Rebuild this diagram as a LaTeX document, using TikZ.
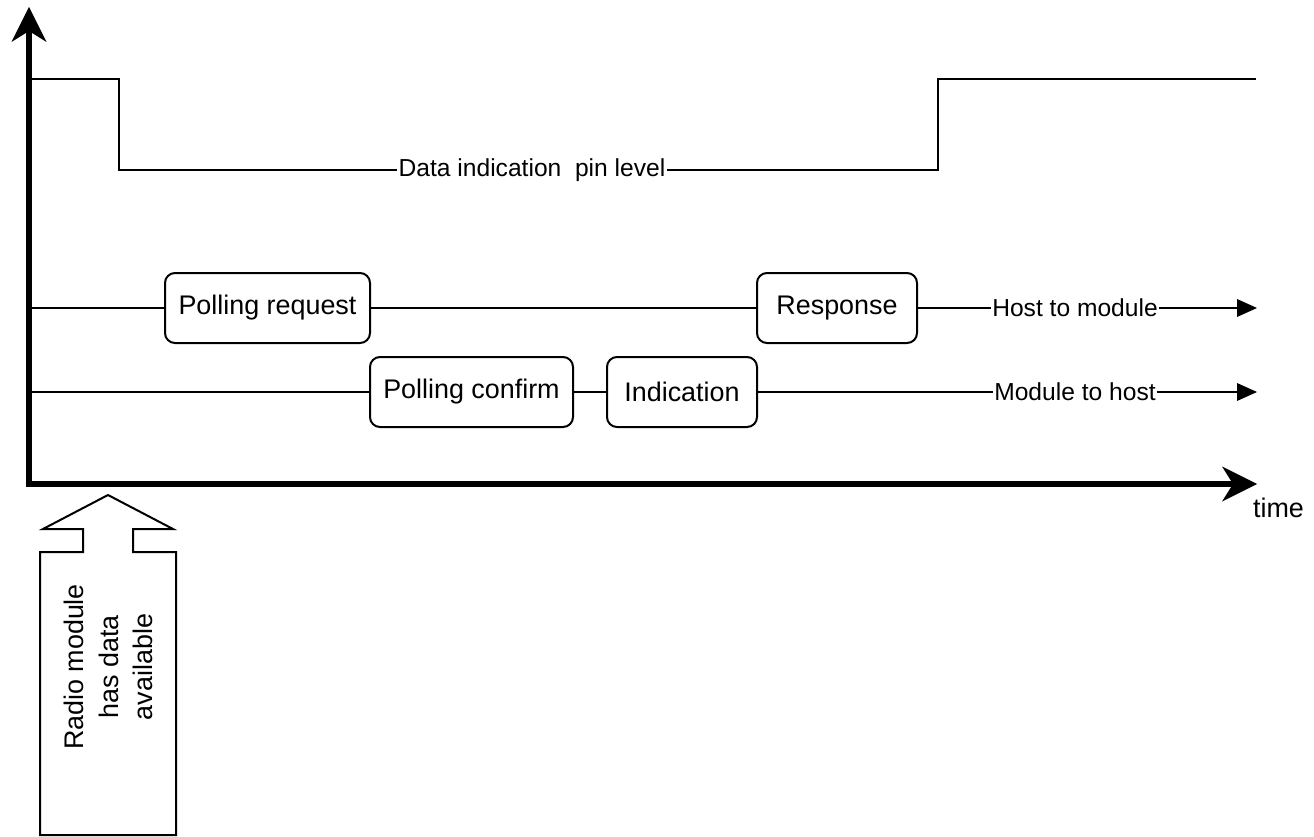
\documentclass[tikz,border=0pt]{standalone}
\usepackage{fontspec}
\setmainfont{Liberation Sans}
\usetikzlibrary{arrows.meta}
\begin{document}
\begin{tikzpicture}[x=1pt,y=-1pt,
  thinline/.style={line width=2pt},
  box/.style={draw, line width=2pt, rounded corners=10pt, inner sep=0pt, minimum height=70pt, font=\fontsize{26.9}{32}\selectfont},
  lbl/.style={inner sep=1.5pt, font=\fontsize{24.6}{29}\selectfont},
  bigtext/.style={inner sep=0pt, font=\fontsize{26.9}{34.5}\selectfont},
  axisarrows/.style={{Stealth[length=35pt,width=35pt,inset=11pt,line width=0pt]}-{Stealth[length=35pt,width=35pt,inset=11pt,line width=0pt]}},
  rowtip/.style={-{Triangle[length=20pt,width=18pt,line width=0pt]}}
]
\useasboundingbox (0,0) rectangle (1314,837);

% axes
\coordinate (O) at (29,484);
\coordinate (Ytip) at (29,7);
\coordinate (Xtip) at (1257,484);
\draw[line width=6.5pt, line join=miter, axisarrows] (Ytip) -- (O) -- (Xtip);
\node[bigtext] (time) at (1278.5,508) {time};

% data indication pin level
\coordinate (h0) at (29,79);
\coordinate (f1) at (119,79);
\coordinate (f2) at (938,79);
\coordinate (h1) at (1256,79);
\node[lbl] (dil) at (532,170) {Data indication\ \ pin level};
\draw[thinline] (h0) -- (f1) |- (dil.west);
\draw[thinline] (dil.east) -| (f2) -- (h1);

% host to module row
\coordinate (r1) at (29,308);
\node[box, minimum width=205pt] (preq) at (267.5,308) {Polling request};
\node[box, minimum width=160pt] (resp) at (837,308) {Response};
\node[lbl] (h2m) at (1075,308) {Host to module};
\coordinate (a1) at (1257,308);
\draw[thinline] (r1) -- (preq);
\draw[thinline] (preq) -- (resp);
\draw[thinline] (resp) -- (h2m);
\draw[thinline, rowtip] (h2m) -- (a1);

% module to host row
\coordinate (r2) at (29,392);
\node[box, minimum width=203pt] (pconf) at (471.5,392) {Polling confirm};
\node[box, minimum width=150pt] (ind) at (682,392) {Indication};
\node[lbl] (m2h) at (1075,392) {Module to host};
\coordinate (a2) at (1257,392);
\draw[thinline] (r2) -- (pconf);
\draw[thinline] (pconf) -- (ind);
\draw[thinline] (ind) -- (m2h);
\draw[thinline, rowtip] (m2h) -- (a2);

% block arrow
\draw[line width=2pt, line join=miter]
  (108,495) -- (173,529) -- (133,529) -- (133,552) -- (176,552) -- (176,835)
  -- (40,835) -- (40,552) -- (83,552) -- (83,529) -- (43,529) -- cycle;
\node[bigtext, rotate=90, align=center] (rm) at (108.5,667) {Radio module\\has data\\available};
\end{tikzpicture}
\end{document}
